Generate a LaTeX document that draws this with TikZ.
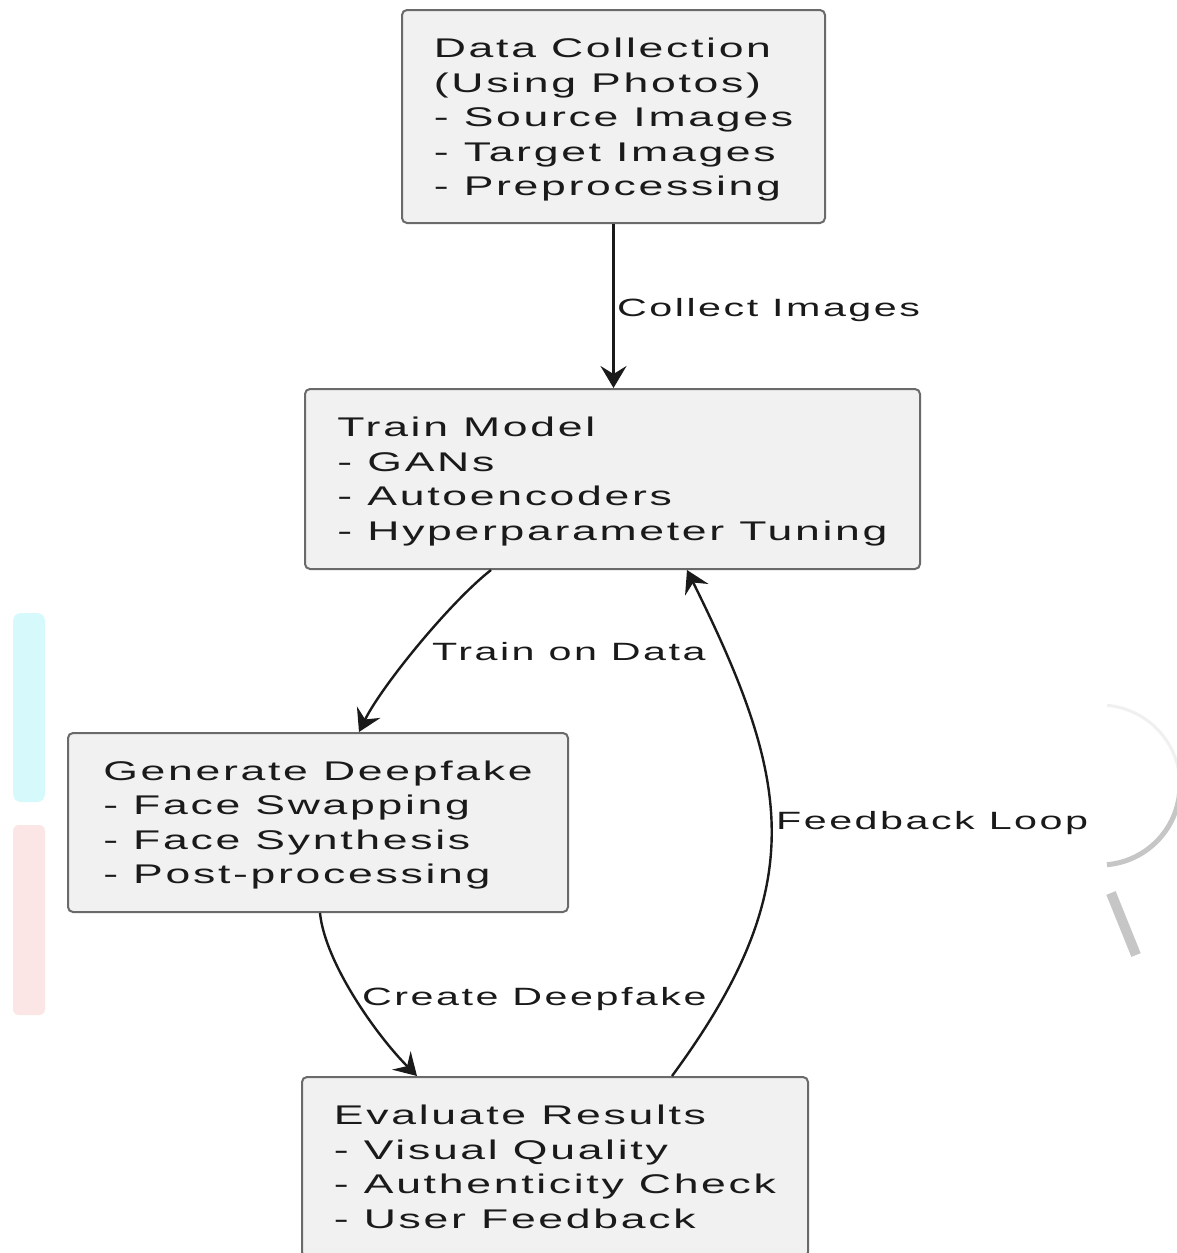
\documentclass[tikz,border=0pt]{standalone}
\usepackage{fontspec}
\setmainfont{Liberation Sans}[FakeStretch=1.65, LetterSpace=10]
\newfontfamily\lblfamily{Liberation Sans}[FakeStretch=1.65, LetterSpace=10]
\usetikzlibrary{arrows.meta}
\definecolor{boxfill}{HTML}{F1F1F1}
\definecolor{boxline}{HTML}{6A6A6A}
\definecolor{ink}{HTML}{1A1A1A}
\definecolor{cyanart}{HTML}{D6FAFB}
\definecolor{pinkart}{HTML}{FCE5E5}
\newcommand\bxfont{\fontsize{27pt}{34.5pt}\selectfont}
\newcommand\lbfont{\lblfamily\fontsize{25pt}{30pt}\selectfont}
\begin{document}
\begin{tikzpicture}[x=1pt, y=-1pt,
  box/.style={draw=boxline, fill=boxfill, line width=2pt, rounded corners=5pt,
    align=left, font=\bxfont, text=ink, inner sep=0pt},
  lbl/.style={font=\lbfont, text=ink, inner sep=0pt, anchor=base west},
  arr/.style={-{Stealth[length=22pt, width=26pt, inset=8pt]}, line width=2.4pt, draw=ink}]
\clip (0,0) rectangle (1177,1253);
\fill[white] (0,0) rectangle (1177,1253);
% scan artefacts at the page edges
\fill[cyanart, rounded corners=8pt] (13,613) rectangle (45,802);
\fill[pinkart, rounded corners=6pt] (13,825) rectangle (45,1015);
\draw[gray!12, line width=3pt] plot[domain=-85:0, samples=30] ({1100+80*cos(\x)}, {785+80*sin(\x)});
\draw[gray!45, line width=5pt] plot[domain=0:85, samples=30] ({1100+80*cos(\x)}, {785+80*sin(\x)});
\draw[gray!45, line width=10pt] (1111,893) -- (1136,955);
% boxes
\node[box, minimum width=423pt, minimum height=213pt] (b1) at (613.5,116.5)
  {\rule{0pt}{26pt}Data Collection\\(Using Photos)\\- Source Images\\- Target Images\\- Preprocessing};
\node[box, minimum width=615pt, minimum height=180pt] (b2) at (612.5,479)
  {\rule{0pt}{25pt}Train Model\\- GANs\\- Autoencoders\\- Hyperparameter Tuning};
\node[box, minimum width=500pt, minimum height=179pt] (b3) at (318,822.5)
  {\rule{0pt}{25pt}Generate Deepfake\\- Face Swapping\\- Face Synthesis\\- Post-processing};
\node[box, minimum width=506pt, minimum height=180pt] (b4) at (555,1167)
  {Evaluate Results\\- Visual Quality\\- Authenticity Check\\- User Feedback};
% connectors
\draw[arr] (b1.south) -- (b1.south |- b2.north);
\draw[arr] ([xshift=187pt]b2.south west) .. controls +(-42,33) and +(22,-45) .. ([xshift=292pt]b3.north west);
\draw[arr] ([xshift=253pt]b3.south west) .. controls +(5,50) and +(-40,-40) .. ([xshift=116pt]b4.north west);
\draw[arr] ([xshift=371pt]b4.north west) .. controls +(140,-190) and +(104,210) .. ([xshift=383pt]b2.south west);
% labels
\node[lbl] (l1) at (617,316) {Collect Images};
\node[lbl] (l2) at (432,660) {Train on Data};
\node[lbl] (l3) at (362,1005) {Create Deepfake};
\node[lbl] (l4) at (776,829) {Feedback Loop};
\end{tikzpicture}
\end{document}
